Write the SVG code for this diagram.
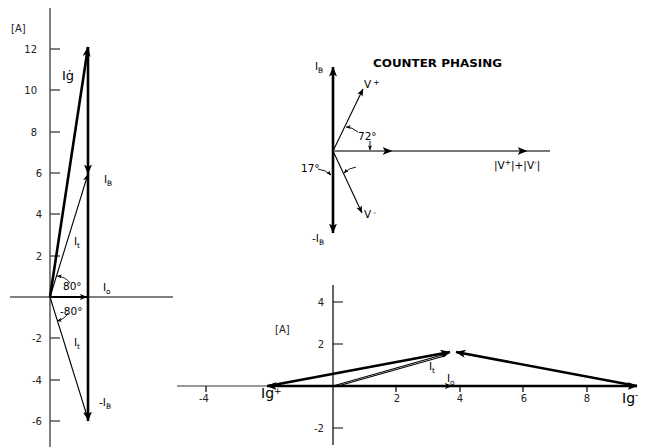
<svg xmlns="http://www.w3.org/2000/svg" width="647" height="447" viewBox="0 0 647 447">
<defs>
<style>
text{font-family:"DejaVu Sans","Liberation Sans",Arial,sans-serif;fill:#000}
.n{font-size:10px;fill:#222}
.l{font-size:10.5px}
.big{font-size:14px}
.sub{font-size:7.5px}
.ttl{font-size:10px;font-weight:bold}
.axis{stroke:#555;stroke-width:1.5;fill:none}
.axk{stroke:#000;stroke-width:1;fill:none}
.thick{stroke:#000;stroke-width:2.6;fill:none}
.mid{stroke:#000;stroke-width:2;fill:none}
.thin{stroke:#000;stroke-width:1.1;fill:none}
.gray{stroke:#777;stroke-width:2;fill:none}
.gthin{stroke:#777;stroke-width:1.5;fill:none}
.lead{stroke:#000;stroke-width:0.9;fill:none}
</style>
<marker id="ah" viewBox="0 0 10 8" refX="9.5" refY="4" markerWidth="10" markerHeight="8" markerUnits="userSpaceOnUse" orient="auto"><path d="M0,0 L10,4 L0,8 L2.5,4 z" fill="#000"/></marker>
<marker id="ahs" viewBox="0 0 10 8" refX="9.5" refY="4" markerWidth="8" markerHeight="6" markerUnits="userSpaceOnUse" orient="auto"><path d="M0,0 L10,4 L0,8 L2.5,4 z" fill="#000"/></marker>
<marker id="ahl" viewBox="0 0 10 8" refX="9.5" refY="4" markerWidth="5" markerHeight="4" markerUnits="userSpaceOnUse" orient="auto"><path d="M0,0 L10,4 L0,8 L2.5,4 z" fill="#000"/></marker>
</defs>

<g id="left-chart">
  <line class="axis" x1="50" y1="8" x2="50" y2="447"/>
  <path class="axis" d="M50,49h10M50,90h10M50,132h10M50,173h10M50,214h10M50,256h10M50,338h10M50,380h10M50,421h10"/>
  <line class="axk" x1="10" y1="297" x2="173" y2="297"/>
  <text class="n" x="11" y="32">[A]</text>
  <g class="n" text-anchor="end">
    <text class="n" x="37" y="53">12</text>
    <text class="n" x="37" y="94">10</text>
    <text class="n" x="37" y="136">8</text>
    <text class="n" x="42" y="177">6</text>
    <text class="n" x="42" y="218">4</text>
    <text class="n" x="42" y="260">2</text>
    <text class="n" x="42" y="342">-2</text>
    <text class="n" x="42" y="384">-4</text>
    <text class="n" x="42" y="425">-6</text>
  </g>
  <text class="l" x="62" y="80" style="font-size:13px">Iġ</text>
  <text class="l" x="104" y="183">I<tspan class="sub" dy="2.5">B</tspan></text>
  <text class="l" x="74" y="245">I<tspan class="sub" dy="2.5">t</tspan></text>
  <text class="l" x="63" y="290">80°</text>
  <text class="l" x="103" y="291">I<tspan class="sub" dy="2.5">o</tspan></text>
  <text class="l" x="60" y="315">-80°</text>
  <text class="l" x="74" y="346">I<tspan class="sub" dy="2.5">t</tspan></text>
  <text class="l" x="99" y="406">-I<tspan class="sub" dy="2.5">B</tspan></text>
</g>

<g id="top-chart">
  <text class="ttl" x="373" y="67" textLength="129" lengthAdjust="spacingAndGlyphs">COUNTER PHASING</text>
  <text class="l" x="315" y="70">I<tspan class="sub" dy="2.5">B</tspan></text>
  <text class="l" x="312" y="242">-I<tspan class="sub" dy="2.5">B</tspan></text>
  <text class="l" x="364" y="88">V<tspan class="sub" dx="2" dy="-3">+</tspan></text>
  <text class="l" x="364" y="218">V<tspan class="sub" dx="2" dy="-3">-</tspan></text>
  <text class="l" x="358" y="140">72°</text>
  <text class="l" x="301" y="172">17°</text>
  <text class="l" x="494" y="169">|V<tspan class="sub" dy="-4">+</tspan><tspan dy="4">|+|V</tspan><tspan class="sub" dy="-4">-</tspan><tspan dy="4">|</tspan></text>
</g>

<g id="bottom-chart">
  <line class="gthin" x1="177" y1="386" x2="268" y2="386"/>
  <line class="axk" x1="333" y1="285" x2="333" y2="445" style="stroke-width:1.2"/>
  <path class="axk" d="M333,302h10M333,344h10M333,428h10" style="stroke-width:1.2"/>
  <path class="axk" d="M206,386v6M396,386v6M460,386v6M523,386v6M587,386v6" style="stroke-width:1.2"/>
  <text class="n" x="275" y="333">[A]</text>
  <g text-anchor="end">
    <text class="n" x="324" y="306">4</text>
    <text class="n" x="324" y="348">2</text>
    <text class="n" x="324" y="432">-2</text>
  </g>
  <g text-anchor="middle">
    <text class="n" x="204" y="402">-4</text>
    <text class="n" x="397" y="402">2</text>
    <text class="n" x="460" y="402">4</text>
    <text class="n" x="524" y="402">6</text>
    <text class="n" x="587" y="402">8</text>
  </g>
  <text class="big" x="261" y="398">Ig<tspan class="sub" style="font-size:9px" dy="-4">+</tspan></text>
  <text class="big" x="622" y="403">Ig<tspan class="sub" style="font-size:9px" dy="-5">-</tspan></text>
  <text class="l" x="429" y="370">I<tspan class="sub" dy="2.5">t</tspan></text>
  <text class="l" x="447" y="382">I<tspan class="sub" dy="2.5">o</tspan></text>
</g>

<g id="connectors">
  <!-- left chart -->
  <line class="thick" x1="50" y1="297" x2="88" y2="47" marker-end="url(#ah)"/>
  <line class="thick" x1="88" y1="47" x2="88" y2="174" marker-end="url(#ah)"/>
  <line class="thick" x1="88" y1="174" x2="88" y2="421" marker-end="url(#ah)"/>
  <line class="thin" x1="50" y1="297" x2="88" y2="174" marker-end="url(#ahs)"/>
  <line class="thin" x1="50" y1="297" x2="88" y2="419" marker-end="url(#ahs)"/>
  <line class="mid" x1="50" y1="297" x2="87" y2="297" marker-end="url(#ahs)"/>
  <path class="lead" d="M70,283 Q66,277 57,276" marker-end="url(#ahl)"/>
  <path class="lead" d="M68,313 Q65,319 57,321" marker-end="url(#ahl)"/>
  <!-- top chart -->
  <line class="thick" x1="333" y1="151" x2="333" y2="67" marker-end="url(#ah)"/>
  <line class="thick" x1="333" y1="151" x2="333" y2="233" marker-end="url(#ah)"/>
  <line class="gray" x1="333" y1="151" x2="392" y2="151" marker-end="url(#ah)"/>
  <line class="gray" x1="392" y1="151" x2="527" y2="151" marker-end="url(#ah)"/>
  <line class="gray" x1="527" y1="151" x2="550" y2="151"/>
  <line class="thin" x1="333" y1="151" x2="363" y2="89" marker-end="url(#ahs)"/>
  <line class="thin" x1="333" y1="151" x2="362" y2="213" marker-end="url(#ahs)"/>
  <path class="lead" d="M358,132 Q352,127 346,127" marker-end="url(#ahl)"/>
  <path class="lead" d="M370,141 L370,150" marker-end="url(#ahl)"/>
  <path class="lead" d="M318,169 Q326,170 331,175" marker-end="url(#ahl)"/>
  <path class="lead" d="M356,167 Q349,168 344,173" marker-end="url(#ahl)"/>
  <!-- bottom chart -->
  <line class="thick" x1="333" y1="386" x2="267" y2="386" marker-end="url(#ah)"/>
  <line class="thick" x1="333" y1="386" x2="637" y2="386" marker-end="url(#ah)"/>
  <line class="mid" x1="333" y1="386" x2="452" y2="386" marker-end="url(#ahs)"/>
  <line class="thick" x1="268" y1="386" x2="450" y2="352" marker-end="url(#ah)"/>
  <line class="thick" x1="637" y1="386" x2="456" y2="352" marker-end="url(#ah)"/>
  <line class="thin" x1="333" y1="386" x2="449" y2="353" marker-end="url(#ahs)"/>
  <line class="thin" x1="338" y1="386" x2="446" y2="355.5"/>
</g>
</svg>
